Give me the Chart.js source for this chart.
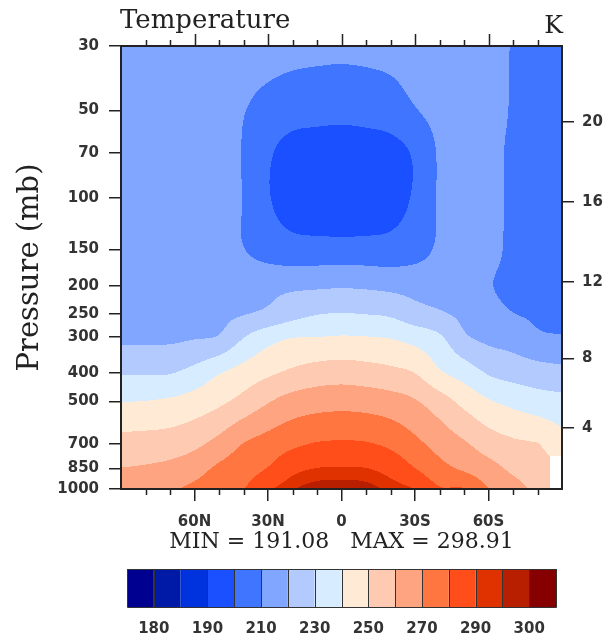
<!DOCTYPE html>
<html>
<head>
<meta charset="utf-8">
<script src="https://cdn.jsdelivr.net/npm/chart.js@4.4.0/dist/chart.umd.min.js"></script>
<style>
  html, body { margin: 0; padding: 0; background: #fff; }
  #wrap { width: 608px; height: 640px; }
</style>
</head>
<body>
<div id="wrap"><canvas id="chart-temp" width="608" height="640"></canvas></div>
<script>
// grid: latitude columns (N positive) and pressure rows (mb)
const lats = [90, 80, 70, 60, 50, 40, 30, 20, 10, 0, -10, -20, -30, -40, -50, -60, -70, -80, -90];
const pressures = [30, 50, 70, 100, 150, 200, 250, 300, 400, 500, 700, 850, 1000];

// zonal mean temperature (K), one row per pressure level, 90N -> 90S
const t30   = [216, 216, 216, 215.5, 215, 214.5, 214, 213.3, 212.8, 212.6, 212.8, 213.2, 213.8, 214.5, 215, 213.5, 209.5, 207, 206];
const t50   = [215, 215, 215, 214.5, 213.5, 210.35, 206.8, 204.3, 203.5, 203, 203.8, 205.5, 209.5, 212.5, 214, 213, 209.3, 206.5, 205.5];
const t70   = [214.5, 214.5, 214.5, 214, 212.5, 209.5, 201.5, 196, 194.5, 194, 194.5, 196, 201.5, 211, 213.5, 212.5, 208.5, 206, 205];
const t100  = [214, 214, 214, 213.5, 212.5, 209.7, 200.8, 195.5, 192, 191.1, 192, 195.5, 201.5, 211, 213.5, 212.5, 208.5, 206, 205];
const t150  = [214, 214, 214, 214, 212.5, 210.2, 206, 203.8, 204, 204, 204, 204, 206.5, 211.2, 213, 212, 208.5, 206.5, 205.5];
const t200  = [215, 215, 215, 215.5, 215.5, 216, 217.4, 218.1, 218.5, 219, 218.5, 217.5, 216.5, 215.5, 214, 210.5, 208.5, 207.5, 206.5];
const t250  = [216.5, 216.5, 216.8, 217.5, 218, 219.6, 222, 226.5, 229.6, 230.3, 229.8, 228.5, 224, 221.2, 217.8, 213, 210.2, 209, 208];
const t300  = [218, 218, 218.2, 219.3, 220.7, 229.5, 236, 239.5, 239.9, 240.6, 240.2, 239.2, 236, 231.3, 221.5, 217.5, 215.5, 211.5, 210.5];
const t400  = [229.5, 229.5, 229.7, 233.5, 239.5, 244.2, 248.5, 252, 254.6, 255.5, 254.5, 252.8, 250, 241.5, 235.9, 229.3, 226.5, 224.6, 223.1];
const t500  = [239.8, 240.2, 241.5, 244.1, 248, 253.2, 259.3, 263.9, 265.8, 266.5, 265.8, 264.1, 260.8, 254.5, 247.2, 241, 237.4, 234.5, 232.9];
const t700  = [253.7, 254.2, 255, 257.9, 263.4, 270.3, 274.2, 278.1, 280.7, 281.3, 280.8, 278, 272.5, 266.5, 261.3, 255.4, 251.9, 250.5, 244.5];
const t850  = [260.2, 261, 262.7, 266, 271.9, 275.6, 280.5, 287.4, 290.2, 290.5, 290.2, 286.8, 280.2, 273.2, 268.5, 263.6, 258.2, 255, null];
const t1000 = [264, 265.5, 268.5, 272.5, 276.5, 279.9, 288.5, 294.5, 298, 298.9, 297.5, 293.5, 289.8, 281, 280.5, 270.2, 263.5, 258, null];
const tempRows = [t30, t50, t70, t100, t150, t200, t250, t300, t400, t500, t700, t850, t1000];

// contour levels and fill colours (one more colour than levels)
const levels = [180, 185, 190, 200, 210, 220, 230, 240, 250, 260, 270, 280, 290, 295, 300];
const fillColors = ['#000090', '#001aa8', '#0033dd', '#1a50ff', '#4076ff', '#80a6ff', '#b3caff', '#d8ecff',
                    '#ffead6', '#ffcab2', '#ffa480', '#ff7640', '#ff4e19', '#e03200', '#b81e00', '#870000'];

// axis ticks
const latTicks = [60, 30, 0, -30, -60];
const latLabels = ['60N', '30N', '0', '30S', '60S'];
const latMinor = [80, 70, 50, 40, 20, 10, -10, -20, -40, -50, -70, -80];
const heightKm = [4, 8, 12, 16, 20];
const heightHpa = [616.4, 356.0, 194.0, 102.9, 54.7];

const minVal = 191.08, maxVal = 298.91;

const INK = '#222';
const LABEL_INK = '#333';
const TICK_FONT = { family: 'DejaVu Sans', size: 15, weight: 'bold' };
const logP = pressures.map(Math.log);

function hexToRgb(h) {
  const n = parseInt(h.slice(1), 16);
  return [(n >> 16) & 255, (n >> 8) & 255, n & 255];
}

function levelIndex(v) {
  let k = 0;
  while (k < levels.length && v >= levels[k]) k++;
  return k;
}

function rowIndex(p) {
  let i = 0;
  while (i < pressures.length - 2 && p > pressures[i + 1]) i++;
  return i;
}

function colIndex(lat) {
  let j = 0;
  while (j < lats.length - 2 && lat < lats[j + 1]) j++;
  return j;
}

// cubic hermite along one axis, slopes from neighbouring nodes
function hermite(xs, vals, k, x) {
  const n = xs.length;
  const sl = m => m === 0 ? (vals[1] - vals[0]) / (xs[1] - xs[0])
    : m === n - 1 ? (vals[n - 1] - vals[n - 2]) / (xs[n - 1] - xs[n - 2])
    : (vals[m + 1] - vals[m - 1]) / (xs[m + 1] - xs[m - 1]);
  const h = xs[k + 1] - xs[k];
  const t = Math.min(1, Math.max(0, (x - xs[k]) / h));
  const t2 = t * t, t3 = t2 * t;
  return (2 * t3 - 3 * t2 + 1) * vals[k] + (t3 - 2 * t2 + t) * h * sl(k)
       + (-2 * t3 + 3 * t2) * vals[k + 1] + (t3 - t2) * h * sl(k + 1);
}

// bilinear fallback next to missing nodes; blank where the nearest node is missing
function bilinear(lat, p) {
  const i = rowIndex(p), j = colIndex(lat);
  const t = Math.min(1, Math.max(0, (Math.log(p) - logP[i]) / (logP[i + 1] - logP[i])));
  const u = Math.min(1, Math.max(0, (lats[j] - lat) / (lats[j] - lats[j + 1])));
  const nodes = [[i, j, (1 - t) * (1 - u)], [i, j + 1, (1 - t) * u], [i + 1, j, t * (1 - u)], [i + 1, j + 1, t * u]];
  let best = nodes[0];
  for (const n of nodes) if (n[2] > best[2]) best = n;
  if (tempRows[best[0]][best[1]] == null) return null;
  let s = 0, w = 0;
  for (const [a, b, wt] of nodes) {
    const v = tempRows[a][b];
    if (v != null) { s += v * wt; w += wt; }
  }
  return s / w;
}

const contourFill = {
  id: 'contourFill',
  beforeDatasetsDraw(chart) {
    const { ctx, chartArea: a, scales: { x, y } } = chart;
    const w = Math.round(a.right - a.left), h = Math.round(a.bottom - a.top);
    const img = ctx.createImageData(w, h);
    const rgb = fillColors.map(hexToRgb);
    // per pixel column: latitude and a smooth profile through every pressure row
    const cols = [];
    for (let px = 0; px < w; px++) {
      const lat = x.getValueForPixel(a.left + px + 0.5);
      const j = colIndex(lat);
      const prof = tempRows.map(row => {
        for (let m = Math.max(0, j - 1); m <= Math.min(lats.length - 1, j + 2); m++) if (row[m] == null) return NaN;
        return hermite(lats, row, j, lat);
      });
      cols.push({ lat, j, prof });
    }
    for (let py = 0; py < h; py++) {
      const p = y.getValueForPixel(a.top + py + 0.5);
      const lp = Math.log(p);
      const i = rowIndex(p);
      for (let px = 0; px < w; px++) {
        const { lat, j, prof } = cols[px];
        let ok = true;
        for (let r = Math.max(0, i - 1); r <= Math.min(pressures.length - 1, i + 2); r++) if (isNaN(prof[r])) ok = false;
        let v;
        if (ok) {
          v = hermite(logP, prof, i, lp);
          const core = [tempRows[i][j], tempRows[i][j + 1], tempRows[i + 1][j], tempRows[i + 1][j + 1]];
          v = Math.min(Math.max(v, Math.min(...core)), Math.max(...core));
        } else {
          v = bilinear(lat, p);
        }
        const c = v == null ? [255, 255, 255] : rgb[levelIndex(v)];
        const o = (py * w + px) * 4;
        img.data[o] = c[0]; img.data[o + 1] = c[1]; img.data[o + 2] = c[2]; img.data[o + 3] = 255;
      }
    }
    ctx.putImageData(img, Math.round(a.left), Math.round(a.top));
  }
};

const decorations = {
  id: 'decorations',
  afterDraw(chart) {
    const { ctx, chartArea: a, scales: { x } } = chart;
    ctx.save();
    ctx.strokeStyle = INK;
    ctx.lineWidth = 1.5;
    ctx.beginPath();
    latMinor.forEach(v => {
      const px = Math.round(x.getPixelForValue(v)) + 0.5;
      ctx.moveTo(px, a.bottom); ctx.lineTo(px, a.bottom + 6);
      ctx.moveTo(px, a.top); ctx.lineTo(px, a.top - 6);
    });
    latTicks.forEach(v => {
      const px = Math.round(x.getPixelForValue(v)) + 0.5;
      ctx.moveTo(px, a.top); ctx.lineTo(px, a.top - 12);
    });
    ctx.stroke();

    ctx.lineWidth = 2;
    ctx.strokeRect(a.left, a.top, a.right - a.left, a.bottom - a.top);

    ctx.fillStyle = INK;
    ctx.textBaseline = 'alphabetic';
    ctx.font = '26px "DejaVu Serif"';
    ctx.textAlign = 'left';
    ctx.fillText('Temperature', a.left - 1, 28);
    ctx.font = '25px "DejaVu Serif"';
    ctx.textAlign = 'right';
    ctx.fillText('K', a.right + 1, 33);

    ctx.font = '22px "DejaVu Serif"';
    ctx.textAlign = 'center';
    ctx.fillText('MIN = ' + minVal.toFixed(2) + '   MAX = ' + maxVal.toFixed(2), (a.left + a.right) / 2, 548);

    // colour bar
    const n = fillColors.length;
    const barL = 127, barR = 556, barT = 569, barB = 607;
    const bw = (barR - barL) / n;
    fillColors.forEach((c, k) => {
      ctx.fillStyle = c;
      ctx.fillRect(barL + k * bw, barT, bw, barB - barT);
    });
    ctx.strokeStyle = '#333';
    ctx.lineWidth = 1;
    ctx.beginPath();
    for (let k = 0; k <= n; k++) {
      const bx = Math.round(barL + k * bw) + 0.5;
      ctx.moveTo(bx, barT); ctx.lineTo(bx, barB);
    }
    ctx.rect(barL + 0.5, barT + 0.5, barR - barL, barB - barT);
    ctx.stroke();
    ctx.fillStyle = LABEL_INK;
    ctx.font = 'bold 15px "DejaVu Sans"';
    ctx.textAlign = 'center';
    levels.forEach((lv, k) => {
      if (k % 2 === 0) ctx.fillText(String(lv), barL + (k + 1) * bw, 633);
    });
    ctx.restore();
  }
};

new Chart(document.getElementById('chart-temp'), {
  type: 'scatter',
  data: { datasets: [] },
  options: {
    responsive: false,
    animation: false,
    devicePixelRatio: 1,
    layout: { padding: { top: 46, left: 0, right: 0, bottom: 0 } },
    plugins: { legend: { display: false }, tooltip: { enabled: false } },
    scales: {
      x: {
        type: 'linear', position: 'bottom', reverse: true, min: -90, max: 90,
        afterBuildTicks: s => { s.ticks = latTicks.map(v => ({ value: v })); },
        afterFit: s => { s.height = 151; },
        ticks: { callback: v => latLabels[latTicks.indexOf(v)], font: TICK_FONT, color: LABEL_INK, padding: 12, maxRotation: 0, autoSkip: false },
        grid: { drawOnChartArea: false, tickLength: 12, color: INK, lineWidth: 1.5 },
        border: { display: false }
      },
      y: {
        type: 'logarithmic', position: 'left', reverse: true, min: 30, max: 1000, bounds: 'data',
        afterBuildTicks: s => { s.ticks = pressures.map(v => ({ value: v })); },
        afterFit: s => { s.width = 121; },
        ticks: { callback: v => String(v), font: TICK_FONT, color: LABEL_INK, padding: 10, autoSkip: false },
        grid: { drawOnChartArea: false, tickLength: 12, color: INK, lineWidth: 1.5 },
        border: { display: false },
        title: { display: true, text: 'Pressure (mb)', color: INK, font: { family: 'DejaVu Serif', size: 29 }, padding: { top: 13, bottom: 0 } }
      },
      yh: {
        type: 'logarithmic', position: 'right', reverse: true, min: 30, max: 1000, bounds: 'data',
        afterBuildTicks: s => { s.ticks = heightHpa.map(v => ({ value: v })); },
        afterFit: s => { s.width = 46; },
        ticks: { callback: v => String(heightKm[heightHpa.indexOf(v)]), font: TICK_FONT, color: LABEL_INK, padding: 8, autoSkip: false },
        grid: { drawOnChartArea: false, tickLength: 12, color: INK, lineWidth: 1.5 },
        border: { display: false }
      }
    }
  },
  plugins: [contourFill, decorations]
});
</script>
</body>
</html>
